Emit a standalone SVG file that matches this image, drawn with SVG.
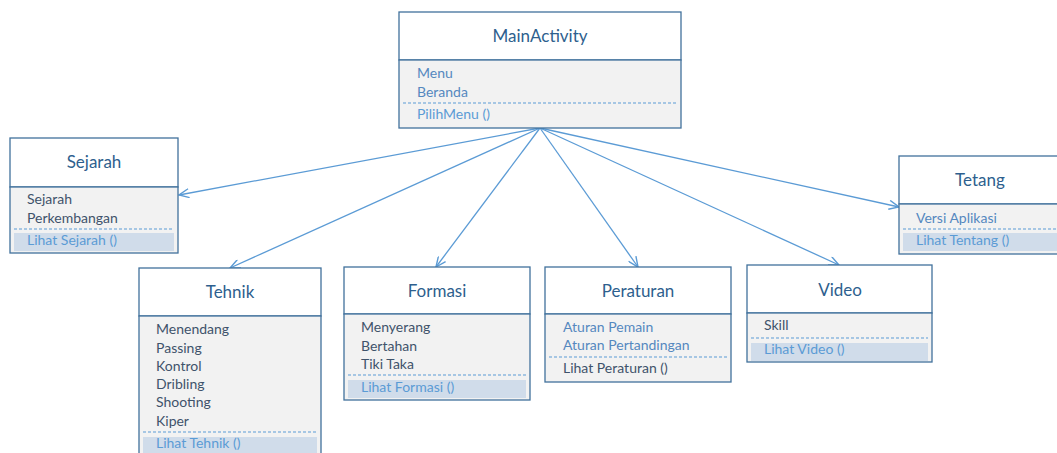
<svg xmlns="http://www.w3.org/2000/svg" width="1057" height="453" viewBox="0 0 1057 453">
  <style>
    .box { fill: #ffffff; stroke: #41719c; stroke-width: 1.3; }
    .comp { fill: #f2f2f2; stroke: #41719c; stroke-width: 1.3; }
    .hl { fill: #d0dcea; stroke: none; }
    .dash { stroke: #5b9bd5; stroke-width: 1; stroke-dasharray: 3 2; }
    .title { font-family: Lato, "Liberation Sans", sans-serif; font-size: 17px; fill: #2e5f8e; text-anchor: middle; }
    .attr { font-family: Lato, "Liberation Sans", sans-serif; font-size: 14px; fill: #3f536b; }
    .attrb { font-family: Lato, "Liberation Sans", sans-serif; font-size: 14px; fill: #5588bf; }
    .meth { font-family: Lato, "Liberation Sans", sans-serif; font-size: 14px; fill: #5b9bd5; }
    .conn { stroke: #5b9bd5; stroke-width: 1.3; fill: none; marker-end: url(#open); }
  </style>
  <defs>
    <marker id="open" viewBox="0 0 12 10" refX="11" refY="5" markerWidth="12" markerHeight="10" markerUnits="userSpaceOnUse" orient="auto">
      <path d="M1,0.5 L11,5 L1,9.5" fill="none" stroke="#5b9bd5" stroke-width="1.4"/>
    </marker>
  </defs>
  <rect width="1057" height="453" fill="#ffffff"/>

  <g id="connectors">
    <line class="conn" x1="540" y1="128" x2="179" y2="195"/>
    <line class="conn" x1="540" y1="128" x2="230" y2="268"/>
    <line class="conn" x1="540" y1="128" x2="436" y2="267"/>
    <line class="conn" x1="540" y1="128" x2="638" y2="267"/>
    <line class="conn" x1="540" y1="128" x2="839" y2="265"/>
    <line class="conn" x1="540" y1="128" x2="899" y2="207"/>
  </g>

  <g id="MainActivity">
    <rect class="box" x="399" y="12" width="282" height="48"/>
    <rect class="comp" x="399" y="60" width="282" height="68"/>
    <text class="title" x="540" y="42">MainActivity</text>
    <text class="attrb" x="417" y="78">Menu</text>
    <text class="attrb" x="417" y="97">Beranda</text>
    <line class="dash" x1="403" y1="103" x2="677" y2="103"/>
    <text class="meth" x="417" y="119">PilihMenu ()</text>
  </g>

  <g id="Sejarah">
    <rect class="box" x="10" y="138" width="168" height="49"/>
    <rect class="comp" x="10" y="187" width="168" height="66"/>
    <text class="title" x="94" y="168">Sejarah</text>
    <text class="attr" x="27" y="204">Sejarah</text>
    <text class="attr" x="27" y="223">Perkembangan</text>
    <line class="dash" x1="14" y1="229" x2="174" y2="229"/>
    <rect class="hl" x="14" y="233" width="160" height="18"/>
    <text class="meth" x="27" y="245">Lihat Sejarah ()</text>
  </g>

  <g id="Tetang">
    <rect class="box" x="899" y="156" width="160" height="48"/>
    <rect class="comp" x="899" y="204" width="160" height="50"/>
    <text class="title" x="980" y="186">Tetang</text>
    <text class="attrb" x="916" y="223">Versi Aplikasi</text>
    <line class="dash" x1="903" y1="229" x2="1057" y2="229"/>
    <rect class="hl" x="903" y="233" width="154" height="18"/>
    <text class="meth" x="916" y="245">Lihat Tentang ()</text>
  </g>

  <g id="Tehnik">
    <rect class="box" x="139" y="268" width="182" height="48"/>
    <rect class="comp" x="139" y="316" width="182" height="140"/>
    <text class="title" x="230" y="298">Tehnik</text>
    <text class="attr" x="156" y="334">Menendang</text>
    <text class="attr" x="156" y="353">Passing</text>
    <text class="attr" x="156" y="371">Kontrol</text>
    <text class="attr" x="156" y="389">Dribling</text>
    <text class="attr" x="156" y="407">Shooting</text>
    <text class="attr" x="156" y="426">Kiper</text>
    <line class="dash" x1="143" y1="432" x2="317" y2="432"/>
    <rect class="hl" x="143" y="437" width="174" height="18"/>
    <text class="meth" x="156" y="448">Lihat Tehnik ()</text>
  </g>

  <g id="Formasi">
    <rect class="box" x="344" y="267" width="186" height="47"/>
    <rect class="comp" x="344" y="314" width="186" height="86"/>
    <text class="title" x="437" y="297">Formasi</text>
    <text class="attr" x="361" y="332">Menyerang</text>
    <text class="attr" x="361" y="351">Bertahan</text>
    <text class="attr" x="361" y="369">Tiki Taka</text>
    <line class="dash" x1="348" y1="375" x2="526" y2="375"/>
    <rect class="hl" x="348" y="380" width="178" height="18"/>
    <text class="meth" x="361" y="392">Lihat Formasi ()</text>
  </g>

  <g id="Peraturan">
    <rect class="box" x="545" y="267" width="186" height="47"/>
    <rect class="comp" x="545" y="314" width="186" height="68"/>
    <text class="title" x="638" y="297">Peraturan</text>
    <text class="attrb" x="563" y="332">Aturan Pemain</text>
    <text class="attrb" x="563" y="350">Aturan Pertandingan</text>
    <line class="dash" x1="549" y1="357" x2="727" y2="357"/>
    <text class="attr" x="563" y="373">Lihat Peraturan ()</text>
  </g>

  <g id="Video">
    <rect class="box" x="747" y="265" width="185" height="48"/>
    <rect class="comp" x="747" y="313" width="185" height="49"/>
    <text class="title" x="840" y="296">Video</text>
    <text class="attr" x="764" y="330">Skill</text>
    <line class="dash" x1="751" y1="338" x2="928" y2="338"/>
    <rect class="hl" x="751" y="343" width="177" height="18"/>
    <text class="meth" x="764" y="354">Lihat Video ()</text>
  </g>
</svg>
